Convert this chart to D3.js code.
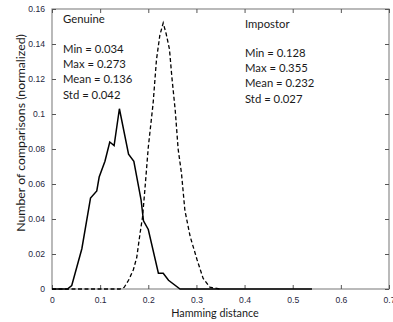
<!DOCTYPE html>
<html><head><meta charset="utf-8">
<script src="https://cdn.jsdelivr.net/npm/d3@7"></script>
<style>body{margin:0;background:#fff}svg{display:block}</style>
</head><body>
<svg id="c" width="393" height="322"></svg>
<script>
const genuineX = [0, 0.032, 0.041, 0.062, 0.080, 0.093, 0.098, 0.110, 0.120, 0.129, 0.140, 0.159, 0.170, 0.185, 0.190, 0.200, 0.221, 0.231, 0.242, 0.266, 0.54];
const genuineY = [0, 0, 0.002, 0.023, 0.052, 0.056, 0.064, 0.073, 0.084, 0.082, 0.103, 0.077, 0.073, 0.051, 0.039, 0.034, 0.009, 0.009, 0.005, 0, 0];
const impostorX = [0, 0.141, 0.150, 0.159, 0.169, 0.176, 0.183, 0.188, 0.193, 0.200, 0.210, 0.217, 0.224, 0.231, 0.237, 0.244, 0.249, 0.256, 0.262, 0.269, 0.276, 0.287, 0.301, 0.314, 0.328, 0.349];
const impostorY = [0, 0, 0.001, 0.005, 0.011, 0.018, 0.032, 0.041, 0.057, 0.081, 0.106, 0.131, 0.145, 0.152, 0.146, 0.137, 0.121, 0.102, 0.080, 0.066, 0.045, 0.030, 0.017, 0.006, 0.001, 0];
const xTicks = [0, 0.1, 0.2, 0.3, 0.4, 0.5, 0.6, 0.7];
const yTicks = [0, 0.02, 0.04, 0.06, 0.08, 0.1, 0.12, 0.14, 0.16];
const genuineText = ["Genuine", "Min = 0.034", "Max = 0.273", "Mean = 0.136", "Std = 0.042"];
const impostorText = ["Impostor", "Min = 0.128", "Max = 0.355", "Mean = 0.232", "Std = 0.027"];
const xLabel = "Hamming distance";
const yLabel = "Number of comparisons (normalized)";

const svg = d3.select("#c");
const L = 52, R = 389, T = 9, B = 289;
const x = d3.scaleLinear().domain([0, 0.7]).range([L, R]);
const y = d3.scaleLinear().domain([0, 0.16]).range([B, T]);
const tickFont = "'Liberation Sans', Arial, sans-serif";
const textFont = "Lato, 'Open Sans', sans-serif";
const tickColor = "#262640";

svg.append("rect").attr("x", L).attr("y", T).attr("width", R - L).attr("height", B - T)
  .attr("fill", "none").attr("stroke", "#8c8c8c").attr("stroke-width", 1.2);

const fmt = d => d === 0 ? "0" : String(+d.toFixed(2));
const ax = svg.append("g").attr("transform", `translate(0,${B})`)
  .call(d3.axisBottom(x).tickValues(xTicks).tickFormat(fmt).tickSizeInner(-4).tickSizeOuter(0).tickPadding(8));
const axT = svg.append("g").attr("transform", `translate(0,${T})`)
  .call(d3.axisTop(x).tickValues(xTicks).tickFormat("").tickSizeInner(-4).tickSizeOuter(0));
const ay = svg.append("g").attr("transform", `translate(${L},0)`)
  .call(d3.axisLeft(y).tickValues(yTicks).tickFormat(fmt).tickSizeInner(-4).tickSizeOuter(0).tickPadding(7));
const ayR = svg.append("g").attr("transform", `translate(${R},0)`)
  .call(d3.axisRight(y).tickValues(yTicks).tickFormat("").tickSizeInner(-4).tickSizeOuter(0));
[ax, axT, ay, ayR].forEach(g => {
  g.select(".domain").remove();
  g.selectAll("line").attr("stroke", "#555");
  g.selectAll("text").attr("fill", tickColor).style("font-family", tickFont).style("font-size", "8.6px");
});

const line = d3.line().x(d => x(d[0])).y(d => y(d[1]));
svg.append("path").datum(impostorX.map((v, i) => [v, impostorY[i]]))
  .attr("d", line).attr("fill", "none").attr("stroke", "#000").attr("stroke-width", 1.3)
  .attr("stroke-dasharray", "4,2.5");
svg.append("path").datum(genuineX.map((v, i) => [v, genuineY[i]]))
  .attr("d", line).attr("fill", "none").attr("stroke", "#000").attr("stroke-width", 1.5);

function block(lines, x0, y0, y1) {
  const g = svg.append("g").style("font-family", textFont).style("font-size", "11.3px").attr("fill", "#1a1a1a");
  g.append("text").attr("x", x0).attr("y", y0).text(lines[0]);
  lines.slice(1).forEach((t, i) => g.append("text").attr("x", x0).attr("y", y1 + i * 15.2).text(t));
}
block(genuineText, 63, 23, 53);
block(impostorText, 245, 28, 57);

svg.append("text").attr("x", 215).attr("y", 317).attr("text-anchor", "middle")
  .style("font-family", textFont).style("font-size", "10.8px").attr("fill", "#1a1a1a").text(xLabel);
svg.append("text").attr("transform", `translate(25,133) rotate(-90)`).attr("text-anchor", "middle")
  .style("font-family", textFont).style("font-size", "12.3px").attr("fill", "#1a1a1a").text(yLabel);
</script>
</body></html>
